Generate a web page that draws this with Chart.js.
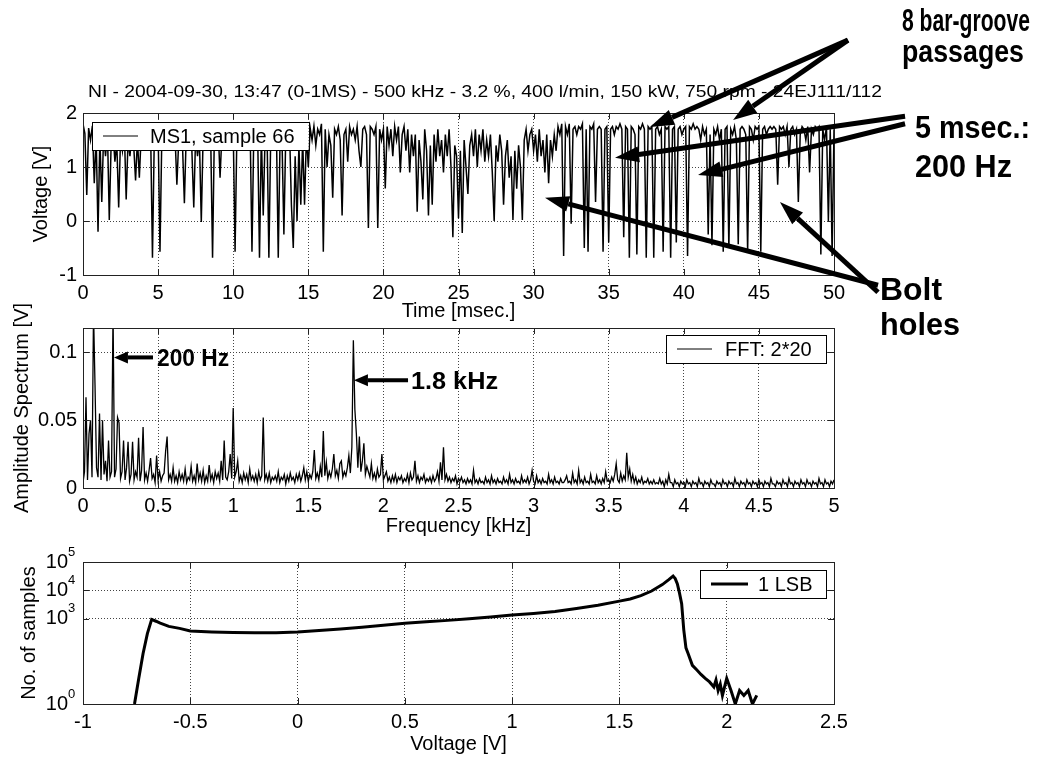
<!DOCTYPE html>
<html>
<head>
<meta charset="utf-8">
<script src="https://cdn.jsdelivr.net/npm/chart.js@4.4.0/dist/chart.umd.min.js"></script>
<style>
  body { margin: 0; background: #fff; }
  #wrap { position: relative; width: 1041px; height: 758px; overflow: hidden; }
  canvas { position: absolute; left: 0; }
</style>
</head>
<body>
<div id="wrap">
  <canvas id="c1" width="1041" height="330" style="top:0"></canvas>
  <canvas id="c2" width="1041" height="265" style="top:280px"></canvas>
  <canvas id="c3" width="1041" height="223" style="top:535px"></canvas>
  <canvas id="notes" width="1041" height="758" style="top:0"></canvas>
</div>
<script>
// MS1 sample 66, voltage, one value every 0.125 ms (8 per row = 1 ms)
const sampleStepMs = 0.125;
const ms1Voltage = [
  1.80, 1.62, 0.48, 1.72, 1.50, 1.76, 0.70, 1.58,
  -0.20, 1.55, 0.35, 1.64, 1.20, 1.70, 0.02, 1.45,
  1.62, 1.10, 1.45, 0.25, 1.55, 1.30, 1.70, 0.40,
  1.50, 1.20, 1.62, 1.40, 0.75, 1.52, 0.80, 1.60,
  1.72, 1.40, 1.62, 1.50, 1.70, -0.68, 1.60, 1.72,
  1.70, -0.57, 1.60, 1.72, 1.65, 1.75, 1.70, 1.60,
  1.72, 1.60, 0.67, 1.50, 1.70, 1.40, 0.33, 1.62,
  1.50, 1.70, 1.30, 0.25, 1.60, 1.20, 1.52, -0.02,
  1.60, 1.40, 1.70, 1.50, 1.60, -0.68, 1.70, 1.60,
  1.72, 0.80, 1.62, 1.70, 1.75, 1.70, 1.65, 1.72,
  1.70, -0.57, 1.70, 1.75, 1.70, 1.65, 1.70, 1.75,
  1.70, 1.75, -0.57, 1.70, 1.30, 1.70, -0.68, 1.60,
  0.10, 1.60, 1.70, -0.68, 1.60, 1.72, 1.75, 1.70,
  -0.68, 1.60, 1.50, -0.25, 1.60, 1.40, 1.70, 0.30,
  -0.50, 1.20, 0.00, 1.40, 0.30, 1.50, 0.30, 1.60,
  1.00, 1.72, 1.50, 1.76, 1.40, 1.70, 1.60, 1.80,
  -0.57, 1.70, 1.00, 1.60, 1.40, 0.43, 1.70, 1.60,
  1.75, 1.50, 0.10, 1.60, 1.70, 1.10, 1.75, 1.60,
  1.70, 1.50, 1.75, 1.30, 1.00, 1.70, 1.75, 1.60,
  -0.13, 1.75, 1.70, 1.60, 1.75, -0.13, 1.70, 1.50,
  1.70, 0.60, 1.75, 1.40, 1.70, 1.20, 1.75, 1.50,
  1.75, 0.90, 1.60, 1.75, 1.30, 1.70, 0.90, 1.60,
  1.20, 1.60, 0.17, 1.50, 1.10, 0.40, 1.70, 1.30,
  0.10, 1.40, 0.30, 1.60, 1.10, 1.70, 1.20, 1.50,
  0.90, 1.60, 1.20, 1.70, 1.00, -0.30, 1.40, 1.20,
  0.05, 1.30, -0.22, 1.50, 1.00, 0.50, 1.40, 1.60,
  1.20, 1.70, 1.00, 1.60, 1.30, 1.70, 1.10, 1.50,
  1.20, 1.60, 0.90, 0.00, 1.40, 1.10, 1.60, 1.30,
  0.30, 1.20, 1.50, 0.80, 1.20, 0.02, 1.30, 0.60,
  1.40, 1.00, 0.02, 1.50, 1.70, 1.30, 1.60, 1.70,
  1.30, 1.60, 1.10, 1.70, 1.20, 1.50, 0.90, 1.60,
  0.70, 1.50, 1.20, 1.60, 1.30, 1.75, 1.60, 1.80,
  -0.65, 1.75, 1.60, 1.80, -0.05, 1.70, 1.75, 1.60,
  1.75, 1.70, 1.80, -0.50, 1.70, -0.57, 1.75, 1.70,
  1.80, 0.35, 1.70, 1.75, 1.70, -0.57, 1.70, 1.75,
  -0.40, 1.70, 1.75, 1.60, 1.75, 1.70, 1.80, 1.70,
  -0.30, 1.75, 1.70, -0.68, 1.75, 1.70, 1.60, -0.62,
  1.75, 1.70, 1.80, 1.70, -0.68, 1.75, 1.70, 1.75,
  -0.68, 1.70, 1.75, 1.60, 1.70, -0.57, 1.75, 1.70,
  1.75, -0.68, 1.70, 1.75, -0.40, 1.70, 1.75, 1.60,
  1.70, 1.75, -0.65, 1.75, 1.70, 1.80, 1.70, 1.75,
  1.70, 1.50, 1.75, 1.60, 1.70, -0.25, 1.60, -0.45,
  1.70, 1.60, 1.75, 1.50, 1.70, -0.57, 1.70, 1.75,
  -0.50, 1.70, 1.60, 1.75, 1.50, -0.43, 1.70, 1.75,
  1.70, 1.60, -0.57, 1.75, 1.70, 1.50, 1.75, 1.70,
  1.75, -0.57, 1.70, 1.75, 1.60, 1.70, 1.75, 1.70,
  1.75, 1.70, 0.67, 1.75, 1.70, 1.75, 1.60, 1.75,
  1.00, 1.70, 1.75, 1.60, 1.70, 0.35, 1.60, 1.75,
  1.70, 1.50, 1.75, 0.90, 1.70, 1.60, 1.75, 1.70,
  1.75, -0.62, 1.70, 1.50, 1.75, 0.00, 1.70, -0.65,
  1.70
];

// amplitude spectrum, one value every 0.01 kHz (20 per row = 0.2 kHz)
const fftStepKhz = 0.01;
const fftAmplitude = [
  0.004, 0.012, 0.067, 0.006, 0.040, 0.050, 0.008, 0.130, 0.076, 0.015, 0.008, 0.055, 0.006, 0.050, 0.010, 0.020, 0.005, 0.035, 0.008, 0.012,
  0.130, 0.008, 0.014, 0.052, 0.048, 0.007, 0.012, 0.035, 0.006, 0.015, 0.034, 0.005, 0.010, 0.034, 0.006, 0.012, 0.008, 0.037, 0.005, 0.013,
  0.045, 0.006, 0.011, 0.005, 0.013, 0.022, 0.007, 0.010, 0.004, 0.024, 0.006, 0.012, 0.005, 0.009, 0.011, 0.027, 0.038, 0.006, 0.010, 0.005,
  0.015, 0.005, 0.009, 0.004, 0.012, 0.006, 0.010, 0.005, 0.014, 0.004, 0.008, 0.006, 0.016, 0.005, 0.009, 0.004, 0.018, 0.006, 0.011, 0.005,
  0.013, 0.004, 0.009, 0.005, 0.017, 0.006, 0.010, 0.004, 0.012, 0.007, 0.011, 0.005, 0.020, 0.006, 0.035, 0.008, 0.006, 0.012, 0.025, 0.007,
  0.059, 0.008, 0.012, 0.020, 0.005, 0.009, 0.004, 0.011, 0.006, 0.010, 0.004, 0.014, 0.006, 0.009, 0.005, 0.010, 0.004, 0.012, 0.006, 0.009,
  0.052, 0.006, 0.010, 0.005, 0.011, 0.004, 0.008, 0.006, 0.009, 0.005, 0.012, 0.004, 0.008, 0.006, 0.010, 0.003, 0.009, 0.005, 0.011, 0.006,
  0.008, 0.004, 0.010, 0.006, 0.011, 0.005, 0.009, 0.015, 0.006, 0.012, 0.005, 0.010, 0.007, 0.012, 0.028, 0.007, 0.011, 0.006, 0.016, 0.008,
  0.042, 0.009, 0.019, 0.007, 0.012, 0.008, 0.014, 0.025, 0.009, 0.013, 0.007, 0.018, 0.020, 0.008, 0.012, 0.009, 0.015, 0.024, 0.011, 0.030,
  0.109, 0.058, 0.040, 0.015, 0.038, 0.012, 0.020, 0.033, 0.010, 0.016, 0.012, 0.008, 0.018, 0.007, 0.011, 0.006, 0.014, 0.008, 0.010, 0.025,
  0.006, 0.009, 0.012, 0.005, 0.008, 0.004, 0.009, 0.005, 0.010, 0.004, 0.008, 0.006, 0.009, 0.004, 0.007, 0.005, 0.010, 0.004, 0.011, 0.006,
  0.008, 0.020, 0.005, 0.009, 0.004, 0.008, 0.006, 0.010, 0.004, 0.007, 0.005, 0.008, 0.004, 0.009, 0.005, 0.007, 0.012, 0.005, 0.019, 0.006,
  0.030, 0.006, 0.010, 0.005, 0.008, 0.004, 0.007, 0.005, 0.009, 0.003, 0.007, 0.005, 0.008, 0.004, 0.006, 0.003, 0.007, 0.004, 0.006, 0.003,
  0.013, 0.004, 0.006, 0.003, 0.007, 0.004, 0.005, 0.003, 0.008, 0.004, 0.006, 0.003, 0.009, 0.004, 0.006, 0.003, 0.007, 0.004, 0.005, 0.003,
  0.008, 0.004, 0.006, 0.003, 0.010, 0.004, 0.006, 0.003, 0.007, 0.004, 0.005, 0.003, 0.009, 0.004, 0.006, 0.004, 0.008, 0.003, 0.006, 0.013,
  0.005, 0.003, 0.009, 0.004, 0.006, 0.003, 0.007, 0.004, 0.005, 0.003, 0.010, 0.004, 0.006, 0.003, 0.008, 0.004, 0.005, 0.003, 0.007, 0.004,
  0.004, 0.006, 0.009, 0.004, 0.005, 0.003, 0.011, 0.004, 0.006, 0.003, 0.013, 0.004, 0.006, 0.003, 0.008, 0.004, 0.005, 0.003, 0.010, 0.004,
  0.005, 0.003, 0.009, 0.004, 0.006, 0.003, 0.007, 0.004, 0.012, 0.005, 0.006, 0.004, 0.008, 0.005, 0.010, 0.018, 0.006, 0.004, 0.011, 0.005,
  0.009, 0.006, 0.026, 0.008, 0.014, 0.005, 0.010, 0.004, 0.008, 0.003, 0.006, 0.004, 0.008, 0.003, 0.005, 0.004, 0.007, 0.003, 0.005, 0.003,
  0.006, 0.003, 0.004, 0.003, 0.007, 0.003, 0.005, 0.001, 0.006, 0.003, 0.010, 0.004, 0.004, 0.001, 0.006, 0.003, 0.004, 0.001, 0.005, 0.003,
  0.004, 0.001, 0.006, 0.003, 0.004, 0.001, 0.005, 0.003, 0.004, 0.001, 0.007, 0.003, 0.004, 0.001, 0.005, 0.003, 0.004, 0.001, 0.006, 0.003,
  0.003, 0.001, 0.005, 0.003, 0.004, 0.001, 0.006, 0.003, 0.004, 0.001, 0.005, 0.003, 0.004, 0.001, 0.007, 0.003, 0.004, 0.001, 0.005, 0.003,
  0.004, 0.001, 0.006, 0.003, 0.004, 0.001, 0.005, 0.003, 0.004, 0.001, 0.006, 0.003, 0.004, 0.001, 0.005, 0.003, 0.004, 0.001, 0.007, 0.003,
  0.003, 0.001, 0.005, 0.003, 0.004, 0.001, 0.006, 0.003, 0.004, 0.001, 0.007, 0.003, 0.004, 0.001, 0.005, 0.003, 0.004, 0.001, 0.006, 0.003,
  0.004, 0.001, 0.006, 0.003, 0.004, 0.001, 0.005, 0.003, 0.004, 0.001, 0.007, 0.003, 0.004, 0.001, 0.006, 0.003, 0.004, 0.001, 0.005, 0.003,
  0.006
];

// histogram of the voltage, 1 LSB bins
const histVoltage = [-0.76, -0.74, -0.72, -0.70, -0.68, -0.66, -0.64, -0.60, -0.55, -0.50,
  -0.45, -0.40, -0.30, -0.20, -0.10, 0.00, 0.10, 0.20, 0.30, 0.40,
  0.50, 0.60, 0.70, 0.80, 0.90, 1.00, 1.10, 1.20, 1.30, 1.40,
  1.50, 1.55, 1.60, 1.65, 1.70, 1.73, 1.75, 1.76, 1.77, 1.78,
  1.79, 1.80, 1.81, 1.82, 1.84, 1.86, 1.88, 1.90, 1.92, 1.94,
  1.95, 1.96, 1.97, 1.98, 2.00, 2.02, 2.04, 2.06, 2.08, 2.10, 2.12, 2.14];
const histCount = [1, 8, 60, 300, 950, 820, 700, 540, 460, 370,
  355, 345, 330, 320, 325, 345, 390, 440, 500, 590,
  700, 780, 880, 1000, 1150, 1350, 1550, 1800, 2300, 3000,
  4200, 5000, 6500, 9500, 16000, 24000, 32000, 26000, 17000, 8000,
  3400, 400, 95, 60, 23, 16, 11, 8, 6, 4,
  7, 3, 5, 2, 8, 3, 1, 3, 2, 3, 1, 2];

const histTicks = [1, 1000, 10000, 100000];
const fftYTicks = [0, 0.05, 0.1];

const titleText = 'NI - 2004-09-30, 13:47 (0-1MS) - 500 kHz - 3.2 %, 400 l/min, 150 kW, 750 rpm - 24EJ111/112';

const FONT = '"Liberation Sans", Arial, sans-serif';
Chart.defaults.font.family = FONT;
Chart.defaults.font.size = 20;
Chart.defaults.color = '#000';
Chart.defaults.animation = false;

const plain = v => String(+Number(v).toFixed(4));

function gridOpts() { return { color: '#444', lineWidth: 1, drawTicks: false }; }
function borderOpts() { return { display: false, dash: [1, 2] }; }

function xAxis(min, max, step, title, titlePad, height) {
  return {
    type: 'linear', min: min, max: max,
    ticks: { stepSize: step, padding: 6, maxRotation: 0, autoSkip: false, callback: plain },
    grid: gridOpts(), border: borderOpts(),
    title: { display: true, text: title, padding: { top: 0, bottom: titlePad } },
    afterFit: s => { s.height = height; }
  };
}
function yAxis(extra, title, titlePad) {
  return Object.assign({
    grid: gridOpts(), border: borderOpts(),
    title: { display: true, text: title, padding: { top: titlePad, bottom: 0 } },
    afterFit: s => { s.width = 83; }
  }, extra);
}

// box round the axes plus inward tick marks, matlab style
const frame = {
  id: 'frame',
  afterDraw(chart) {
    const { ctx, chartArea: a, scales } = chart;
    ctx.save();
    ctx.strokeStyle = '#222';
    ctx.lineWidth = 1;
    ctx.strokeRect(Math.round(a.left) + 0.5, Math.round(a.top) + 0.5, Math.round(a.width), Math.round(a.height));
    ctx.beginPath();
    scales.x.ticks.forEach(t => {
      const x = Math.round(scales.x.getPixelForValue(t.value)) + 0.5;
      ctx.moveTo(x, a.bottom); ctx.lineTo(x, a.bottom - 6);
      ctx.moveTo(x, a.top); ctx.lineTo(x, a.top + 6);
    });
    scales.y.ticks.forEach(t => {
      const y = Math.round(scales.y.getPixelForValue(t.value)) + 0.5;
      ctx.moveTo(a.left, y); ctx.lineTo(a.left + 6, y);
      ctx.moveTo(a.right, y); ctx.lineTo(a.right - 6, y);
    });
    ctx.stroke();
    ctx.restore();
  }
};

// legend drawn as a white box inside the axes
const boxLegend = {
  id: 'boxLegend',
  afterDatasetsDraw(chart, args, o) {
    const ds = chart.data.datasets[0];
    const { ctx, chartArea: a } = chart;
    ctx.save();
    ctx.font = '20px ' + FONT;
    const w = o.textStart + ctx.measureText(ds.label).width + 14;
    const h = 28;
    const x = Math.round(o.side === 'left' ? a.left + 9 : a.right - 8 - w);
    const y = Math.round(a.top + o.top);
    ctx.fillStyle = '#fff';
    ctx.fillRect(x, y, w, h);
    ctx.strokeStyle = '#000';
    ctx.lineWidth = 1;
    ctx.strokeRect(x + 0.5, y + 0.5, Math.round(w), h);
    ctx.beginPath();
    ctx.moveTo(x + 11, y + h / 2);
    ctx.lineTo(x + o.lineEnd, y + h / 2);
    ctx.lineWidth = o.lineWidth || 1;
    ctx.strokeStyle = ds.borderColor;
    ctx.stroke();
    ctx.fillStyle = '#000';
    ctx.textBaseline = 'middle';
    ctx.fillText(ds.label, x + o.textStart, y + h / 2 + 1);
    ctx.restore();
  }
};

// exponents for the 10^n labels of the log axis
const powerLabels = {
  id: 'powerLabels',
  afterDraw(chart) {
    const { ctx, chartArea: a, scales } = chart;
    ctx.save();
    ctx.font = '13px ' + FONT;
    ctx.fillStyle = '#000';
    ctx.textAlign = 'left';
    ctx.textBaseline = 'middle';
    scales.y.ticks.forEach(t => {
      const y = scales.y.getPixelForValue(t.value);
      ctx.fillText(String(Math.round(Math.log10(t.value))), a.left - 15, y - 10);
    });
    ctx.restore();
  }
};

const common = {
  responsive: false,
  events: [],
  elements: { point: { radius: 0 }, line: { tension: 0 } },
  plugins: { legend: { display: false }, tooltip: { enabled: false } }
};

const chartTime = new Chart(document.getElementById('c1'), {
  type: 'line',
  data: { datasets: [{
    label: 'MS1, sample 66',
    data: ms1Voltage.map((v, i) => ({ x: i * sampleStepMs, y: v })),
    borderColor: '#000', borderWidth: 1.5
  }] },
  options: Object.assign({}, common, {
    layout: { padding: { top: 113, right: 207, left: 0, bottom: 0 } },
    scales: {
      x: xAxis(0, 50, 5, 'Time [msec.]', 7, 55),
      y: yAxis({ type: 'linear', min: -1, max: 2, ticks: { stepSize: 1, padding: 6, callback: plain } }, 'Voltage [V]', 29)
    },
    plugins: Object.assign({}, common.plugins, { boxLegend: { side: 'left', top: 9, lineEnd: 46, textStart: 58, lineWidth: 1 } })
  }),
  plugins: [frame, boxLegend]
});

const chartFft = new Chart(document.getElementById('c2'), {
  type: 'line',
  data: { datasets: [{
    label: 'FFT: 2*20',
    data: fftAmplitude.map((v, i) => ({ x: i * fftStepKhz, y: v })),
    borderColor: '#000', borderWidth: 1.3
  }] },
  options: Object.assign({}, common, {
    layout: { padding: { top: 48, right: 207, left: 0, bottom: 0 } },
    scales: {
      x: xAxis(0, 5, 0.5, 'Frequency [kHz]', 7, 57),
      y: yAxis({ type: 'linear', min: 0, max: 0.118,
        afterBuildTicks: s => { s.ticks = fftYTicks.map(v => ({ value: v })); },
        ticks: { padding: 6, callback: plain } }, 'Amplitude Spectrum [V]', 10)
    },
    plugins: Object.assign({}, common.plugins, { boxLegend: { side: 'right', top: 7, lineEnd: 46, textStart: 59, lineWidth: 1 } })
  }),
  plugins: [frame, boxLegend]
});

const chartHist = new Chart(document.getElementById('c3'), {
  type: 'line',
  data: { datasets: [{
    label: '1 LSB',
    data: histVoltage.map((v, i) => ({ x: v, y: histCount[i] })),
    borderColor: '#000', borderWidth: 3
  }] },
  options: Object.assign({}, common, {
    layout: { padding: { top: 7, right: 207, left: 0, bottom: 0 } },
    scales: {
      x: xAxis(-1, 2.5, 0.5, 'Voltage [V]', 2, 54),
      y: yAxis({ type: 'logarithmic', min: 1, max: 100000,
        afterBuildTicks: s => { s.ticks = histTicks.map(v => ({ value: v })); },
        ticks: { padding: 15, callback: () => '10' } }, 'No. of samples', 17)
    },
    plugins: Object.assign({}, common.plugins, { boxLegend: { side: 'right', top: 8, lineEnd: 48, textStart: 58, lineWidth: 3 } })
  }),
  plugins: [frame, boxLegend, powerLabels]
});

// annotations: arrow ends in data units of the chart they belong to
const charts = [chartTime, chartFft, chartHist];
const canvasTops = [0, 280, 535];
const arrowNotes = [
  { chart: 0, from: [50.93, 3.35], to: [37.75, 1.74], lw: 5, head: 24, half: 8 },
  { chart: 0, from: [50.93, 3.35], to: [43.28, 1.87], lw: 5, head: 24, half: 8 },
  { chart: 0, from: [54.73, 1.94], to: [35.42, 1.17], lw: 5, head: 24, half: 8 },
  { chart: 0, from: [54.73, 1.80], to: [40.95, 0.85], lw: 5, head: 24, half: 8 },
  { chart: 0, from: [52.93, -1.19], to: [30.76, 0.43], lw: 5, head: 24, half: 8 },
  { chart: 0, from: [52.93, -1.32], to: [46.40, 0.35], lw: 5, head: 24, half: 8 },
  { chart: 1, from: [0.466, 0.0963], to: [0.206, 0.0963], lw: 4, head: 14, half: 6 },
  { chart: 1, from: [2.164, 0.0794], to: [1.804, 0.0794], lw: 4, head: 14, half: 6 }
];
const textNotes = [
  { text: titleText, x: 88, y: 97, w: 794, font: '16px ' + FONT },
  { text: '8 bar-groove', x: 902, y: 31, w: 128, font: 'bold 32px ' + FONT },
  { text: 'passages', x: 902, y: 62, w: 122, font: 'bold 32px ' + FONT },
  { text: '5 msec.:', x: 915, y: 138, w: 115, font: 'bold 32px ' + FONT },
  { text: '200 Hz', x: 915, y: 177, w: 97, font: 'bold 32px ' + FONT },
  { text: 'Bolt', x: 880, y: 300, w: 62, font: 'bold 32px ' + FONT },
  { text: 'holes', x: 880, y: 335, w: 80, font: 'bold 32px ' + FONT },
  { text: '200 Hz', x: 157, y: 366, w: 72, font: 'bold 24px ' + FONT },
  { text: '1.8 kHz', x: 411, y: 389, w: 87, font: 'bold 24px ' + FONT }
];

function toPage(ci, p) {
  const ch = charts[ci];
  return [ch.scales.x.getPixelForValue(p[0]), canvasTops[ci] + ch.scales.y.getPixelForValue(p[1])];
}

function drawArrow(ctx, a, b, lw, head, half) {
  const ang = Math.atan2(b[1] - a[1], b[0] - a[0]);
  const bx = b[0] - head * Math.cos(ang), by = b[1] - head * Math.sin(ang);
  ctx.lineWidth = lw;
  ctx.beginPath(); ctx.moveTo(a[0], a[1]); ctx.lineTo(bx, by); ctx.stroke();
  ctx.beginPath();
  ctx.moveTo(b[0], b[1]);
  ctx.lineTo(bx + half * Math.sin(ang), by - half * Math.cos(ang));
  ctx.lineTo(bx - half * Math.sin(ang), by + half * Math.cos(ang));
  ctx.closePath(); ctx.fill();
}

const ov = document.getElementById('notes').getContext('2d');
ov.fillStyle = '#000';
ov.strokeStyle = '#000';
ov.lineCap = 'butt';
arrowNotes.forEach(n => drawArrow(ov, toPage(n.chart, n.from), toPage(n.chart, n.to), n.lw, n.head, n.half));
textNotes.forEach(n => {
  ov.font = n.font;
  const w = ov.measureText(n.text).width;
  ov.save();
  ov.translate(n.x, n.y);
  ov.scale(n.w / w, 1);
  ov.textBaseline = 'alphabetic';
  ov.fillText(n.text, 0, 0);
  ov.restore();
});
</script>
</body>
</html>
